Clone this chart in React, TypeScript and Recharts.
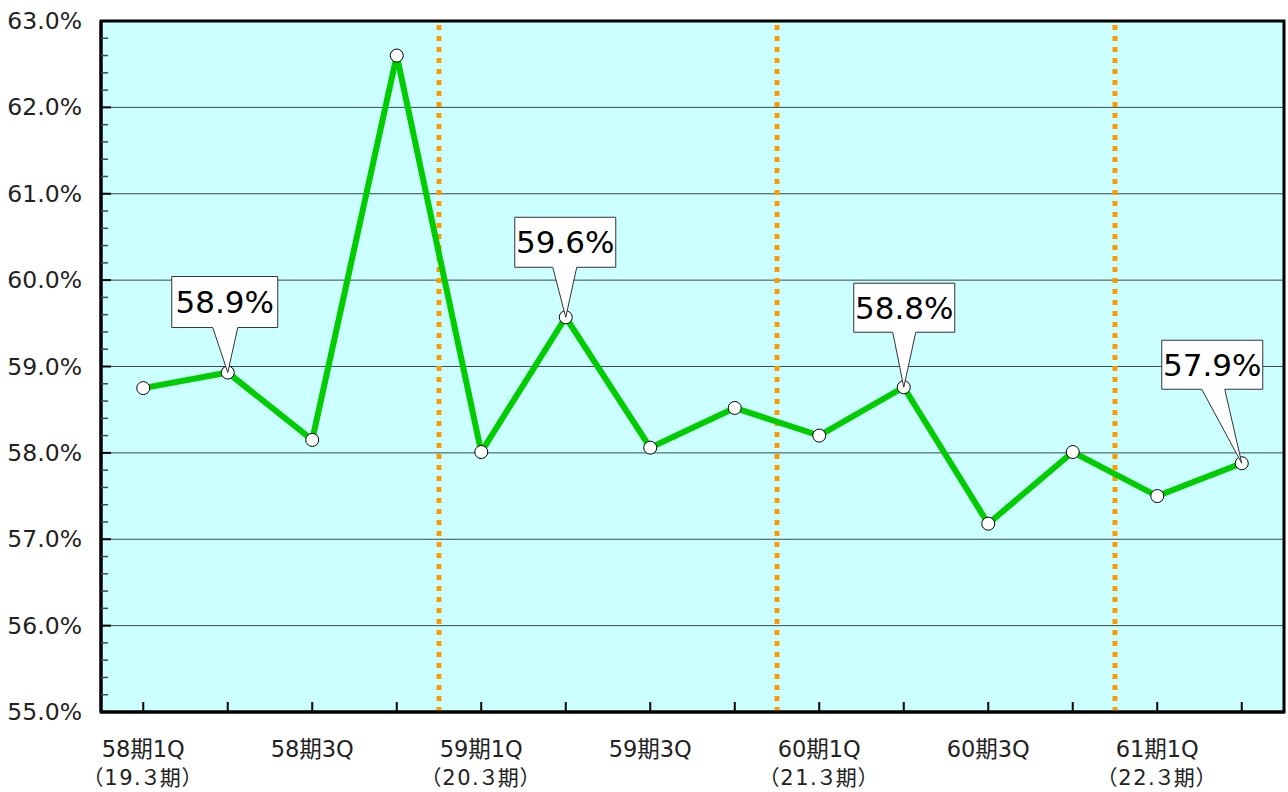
import { LineChart, Line, XAxis, YAxis, CartesianGrid, ReferenceLine, ReferenceArea, LabelList } from 'recharts';

const quarters = ['58期1Q', '58期2Q', '58期3Q', '58期4Q', '59期1Q', '59期2Q', '59期3Q', '59期4Q', '60期1Q', '60期2Q', '60期3Q', '60期4Q', '61期1Q', '61期2Q'];
const tickNames = ['58期1Q', '', '58期3Q', '', '59期1Q', '', '59期3Q', '', '60期1Q', '', '60期3Q', '', '61期1Q', ''];
const fiscalNotes = ['（19.３期）', '', '', '', '（20.３期）', '', '', '', '（21.３期）', '', '', '', '（22.３期）', ''];
const ratio = [58.75, 58.93, 58.15, 62.6, 58.01, 59.57, 58.06, 58.52, 58.2, 58.76, 57.18, 58.01, 57.5, 57.88];
const calloutIdx = [1, 5, 9, 13];
const yTicks = [55, 56, 57, 58, 59, 60, 61, 62, 63];
// fiscal year starts, a dotted line is drawn before each
const yearStarts = ['59期1Q', '60期1Q', '61期1Q'];

const FONT = '"DejaVu Sans", "Noto Sans CJK JP", sans-serif';

// box placement of each callout, relative to its point
const calloutBox: Record<number, { dx: number; dy: number; w: number; h: number; tl: number; tr: number }> = {
    1: { dx: -56, dy: -96, w: 106, h: 51, tl: -15, tr: 10 },
    5: { dx: -51, dy: -100, w: 101, h: 50, tl: -13, tr: 11 },
    9: { dx: -50, dy: -104, w: 101, h: 49, tl: -11, tr: 12 },
    13: { dx: -80, dy: -123, w: 101, h: 49, tl: -40, tr: -17 },
};

const minorTicks: number[] = [];
for (let v = 55; v <= 63.001; v += 0.2) minorTicks.push(Math.round(v * 10) / 10);

const chartData = quarters.map((q, i) => ({ quarter: q, ratio: ratio[i] }));

const QuarterTick = (props: any) => {
    const { x, y, payload } = props;
    const i = quarters.indexOf(payload.value);
    return (
        <g>
            <line x1={x} x2={x} y1={y} y2={y - 10} stroke="#000" strokeWidth={2} />
            <text x={x} y={y + 45} textAnchor="middle" fontSize={22.5} fill="#222" fontFamily={FONT}>{tickNames[i]}</text>
            <text x={x} y={y + 73} textAnchor="middle" fontSize={21} fill="#222" fontFamily={FONT} letterSpacing={1.5} style={{ fontFeatureSettings: '"palt"' }}>{fiscalNotes[i]}</text>
        </g>
    );
};

const PercentTick = (props: any) => {
    const { x, y, payload } = props;
    const v = payload.value as number;
    const major = yTicks.some(t => Math.abs(t - v) < 0.01);
    return (
        <g>
            <line x1={x} x2={x + (major ? 10 : 7)} y1={y} y2={y} stroke={major ? '#000' : '#445'} strokeWidth={major ? 2 : 1.5} />
            {major && (
                <text x={x - 19} y={y + 8} textAnchor="end" fontSize={23.5} fill="#222" fontFamily={FONT}>{v.toFixed(1)}%</text>
            )}
        </g>
    );
};

const Callout = (props: any) => {
    const { x, y, value, index } = props;
    if (!calloutIdx.includes(index)) return null;
    const b = calloutBox[index];
    const left = x + b.dx;
    const top = y + b.dy;
    const right = left + b.w;
    const bottom = top + b.h;
    const d = `M${left},${top} L${right},${top} L${right},${bottom} L${x + b.tr},${bottom} L${x},${y} L${x + b.tl},${bottom} L${left},${bottom} Z`;
    return (
        <g>
            <path d={d} fill="#fff" stroke="#333" strokeWidth={1} />
            <text x={left + b.w / 2} y={top + b.h / 2 + 11} textAnchor="middle" fontSize={31} fill="#000" fontFamily={FONT}>
                {Number(value).toFixed(1)}%
            </text>
        </g>
    );
};

const App = () => {
    return (
        <div style={{ position: 'absolute', left: 0, top: 0, width: 1288, height: 792, background: '#fff' }}>
            <LineChart width={1288} height={792} data={chartData} margin={{ top: 21, right: 4, left: 0, bottom: 0 }}>
                <CartesianGrid vertical={false} horizontalValues={yTicks} fill="#ccffff" fillOpacity={1} stroke="#3a4a4a" strokeWidth={1} />
                <XAxis dataKey="quarter" scale="band" height={80} interval={0} tickSize={0} tickMargin={0} tick={<QuarterTick />} axisLine={{ stroke: '#000', strokeWidth: 3 }} />
                <YAxis domain={[55, 63]} ticks={minorTicks} interval={0} width={101} tickSize={0} tickMargin={0} tick={<PercentTick />} axisLine={{ stroke: '#000', strokeWidth: 3 }} allowDataOverflow />
                <ReferenceArea x1={quarters[0]} x2={quarters[quarters.length - 1]} y1={55} y2={63} fill="none" fillOpacity={0} stroke="#000" strokeWidth={3} />
                {yearStarts.map(q => (
                    <ReferenceLine key={q} x={q} position="start" stroke="#ff9900" strokeWidth={5} strokeDasharray="5 6" />
                ))}
                <Line dataKey="ratio" stroke="#00cc00" strokeWidth={6} dot={{ r: 6.5, fill: '#fff', stroke: '#000', strokeWidth: 1 }} activeDot={false} isAnimationActive={false}>
                    <LabelList dataKey="ratio" content={<Callout />} />
                </Line>
            </LineChart>
        </div>
    );
};

export default App;
